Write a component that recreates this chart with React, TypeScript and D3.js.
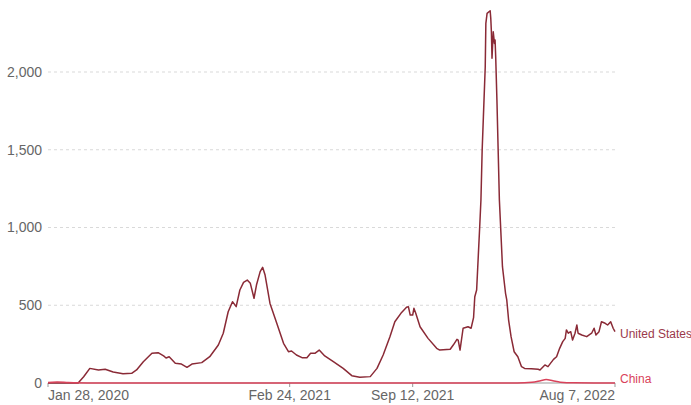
import React from "react";
import * as d3 from "d3";

const usDates = [
  "2020-01-28","2020-03-17","2020-03-26","2020-04-05","2020-04-19","2020-04-30","2020-05-13","2020-05-29",
  "2020-06-12","2020-06-20","2020-07-01","2020-07-15","2020-07-25","2020-08-03","2020-08-07","2020-08-12",
  "2020-08-22","2020-09-01","2020-09-10","2020-09-18","2020-10-04","2020-10-17","2020-10-31","2020-11-08",
  "2020-11-16","2020-11-23","2020-11-29","2020-12-05","2020-12-11","2020-12-17","2020-12-22","2020-12-28",
  "2021-01-01","2021-01-07","2021-01-11","2021-01-15","2021-01-23","2021-02-03","2021-02-14","2021-02-22",
  "2021-02-27","2021-03-07","2021-03-16","2021-03-24","2021-03-30","2021-04-06","2021-04-13","2021-04-22",
  "2021-05-06","2021-05-22","2021-06-05","2021-06-18","2021-07-05","2021-07-16","2021-07-26","2021-08-06",
  "2021-08-14","2021-08-25","2021-09-02","2021-09-05","2021-09-08","2021-09-12","2021-09-14","2021-09-17",
  "2021-09-24","2021-10-07","2021-10-21","2021-10-26","2021-11-12","2021-11-17","2021-11-23","2021-11-25",
  "2021-11-28","2021-12-03","2021-12-11","2021-12-16","2021-12-20","2021-12-22","2021-12-25","2021-12-30",
  "2022-01-01","2022-01-03","2022-01-05","2022-01-08","2022-01-09","2022-01-11","2022-01-16","2022-01-17",
  "2022-01-18","2022-01-19","2022-01-21","2022-01-23","2022-01-24","2022-01-25","2022-01-27","2022-01-29",
  "2022-01-31","2022-02-03","2022-02-05","2022-02-10","2022-02-12","2022-02-15","2022-02-19","2022-02-24",
  "2022-03-02","2022-03-08","2022-03-13","2022-03-24","2022-04-04","2022-04-07","2022-04-15","2022-04-20",
  "2022-04-29","2022-05-04","2022-05-09","2022-05-14","2022-05-18","2022-05-20","2022-05-23","2022-05-27",
  "2022-05-30","2022-06-03","2022-06-06","2022-06-08","2022-06-14","2022-06-22","2022-06-30","2022-07-04",
  "2022-07-07","2022-07-12","2022-07-16","2022-07-22","2022-07-26","2022-07-31","2022-08-04","2022-08-07",
];
const usValues = [
  0, 0, 40, 94, 84, 88, 71, 60,
  62, 84, 137, 191, 195, 174, 161, 169,
  127, 122, 101, 122, 131, 169, 244, 320,
  458, 523, 491, 598, 647, 662, 641, 545,
  630, 716, 744, 694, 512, 384, 255, 201,
  206, 180, 163, 163, 191, 191, 212, 174,
  137, 94, 47, 37, 41, 94, 180, 298,
  394, 454, 487, 491, 437, 437, 480, 448,
  362, 287, 223, 212, 217, 244, 281, 276,
  212, 352, 362, 352, 420, 555, 598, 1005,
  1177, 1498, 1713, 2034, 2313, 2377, 2394, 2345,
  2259, 2088, 2259, 2184, 2206, 2098, 1820, 1498,
  1177, 920, 748, 577, 534, 405, 298, 201,
  169, 105, 94, 92, 88, 84, 116, 105,
  152, 169, 223, 266, 287, 341, 320, 330,
  276, 320, 373, 320, 309, 298, 320, 352,
  309, 330, 394, 384, 373, 394, 352, 330,
];

const chinaDates = [
  "2020-01-28","2020-02-12","2020-03-01","2020-04-01","2022-03-01","2022-03-25",
  "2022-04-08","2022-04-17","2022-04-28","2022-05-10","2022-06-01","2022-08-07",
];
const chinaValues = [3, 6, 3, 0.5, 0.5, 5, 15, 22, 14, 5, 1, 0.5];

const yTicks = [0, 500, 1000, 1500, 2000];
const xTickDates = ["2020-01-28", "2021-02-24", "2021-09-12", "2022-08-07"];
const xTickLabels = ["Jan 28, 2020", "Feb 24, 2021", "Sep 12, 2021", "Aug 7, 2022"];

const US_COLOR = "#8a2a36";
const US_LABEL = "#9b3a4b";
const CN_COLOR = "#d9425a";

export default function App() {
  const width = 691;
  const height = 405;
  const margin = { left: 48, right: 76, top: 72, bottom: 22 };
  const parse = d3.utcParse("%Y-%m-%d");
  const x = d3
    .scaleUtc()
    .domain([parse("2020-01-28")!, parse("2022-08-07")!])
    .range([margin.left, width - margin.right]);
  const y = d3.scaleLinear().domain([0, 2000]).range([height - margin.bottom, margin.top]);

  const us = usDates.map((d, i) => ({ date: parse(d)!, v: usValues[i] }));
  const cn = chinaDates.map((d, i) => ({ date: parse(d)!, v: chinaValues[i] }));
  const line = d3
    .line<{ date: Date; v: number }>()
    .x((d) => x(d.date))
    .y((d) => y(d.v))
    .curve(d3.curveLinear);
  const cnLine = d3
    .line<{ date: Date; v: number }>()
    .x((d) => x(d.date))
    .y((d) => y(d.v))
    .curve(d3.curveMonotoneX);

  const font = "'Liberation Sans', Arial, sans-serif";
  const x0 = margin.left;
  const x1 = width - margin.right;
  const lastUs = us[us.length - 1];
  const lastCn = cn[cn.length - 1];

  return (
    <svg
      width={width}
      height={height}
      style={{ position: "absolute", left: 0, top: 0, background: "#fff" }}
      fontFamily={font}
    >
      {yTicks.map((t) => (
        <g key={t}>
          {t > 0 && (
            <line
              x1={x0}
              x2={x1}
              y1={y(t)}
              y2={y(t)}
              stroke="#d9d9d9"
              strokeWidth={1}
              strokeDasharray="3,3"
            />
          )}
          <text
            x={42}
            y={y(t)}
            dy="0.35em"
            textAnchor="end"
            fontSize={14}
            fill="#666"
          >
            {d3.format(",")(t)}
          </text>
        </g>
      ))}
      {xTickDates.map((d, i) => {
        const px = x(parse(d)!);
        const anchor = i === 0 ? "start" : i === xTickDates.length - 1 ? "end" : "middle";
        return (
          <g key={d}>
            <line x1={px} x2={px} y1={y(0)} y2={y(0) + 4} stroke="#999" strokeWidth={1} />
            <text x={px} y={400} textAnchor={anchor} fontSize={14} fill="#666">
              {xTickLabels[i]}
            </text>
          </g>
        );
      })}
      <line x1={x0} x2={x1} y1={y(0)} y2={y(0)} stroke="#999" strokeWidth={1} />
      <path d={line(us) || ""} fill="none" stroke={US_COLOR} strokeWidth={1.5} strokeLinejoin="round" />
      <path d={cnLine(cn) || ""} fill="none" stroke={CN_COLOR} strokeWidth={1.5} strokeLinejoin="round" />
      <text x={x(lastUs.date) + 5} y={y(lastUs.v) + 2} dy="0.35em" fontSize={12} fill={US_LABEL}>
        United States
      </text>
      <text x={x(lastCn.date) + 5} y={y(lastCn.v) - 4} dy="0.35em" fontSize={12} fill={CN_COLOR}>
        China
      </text>
    </svg>
  );
}
